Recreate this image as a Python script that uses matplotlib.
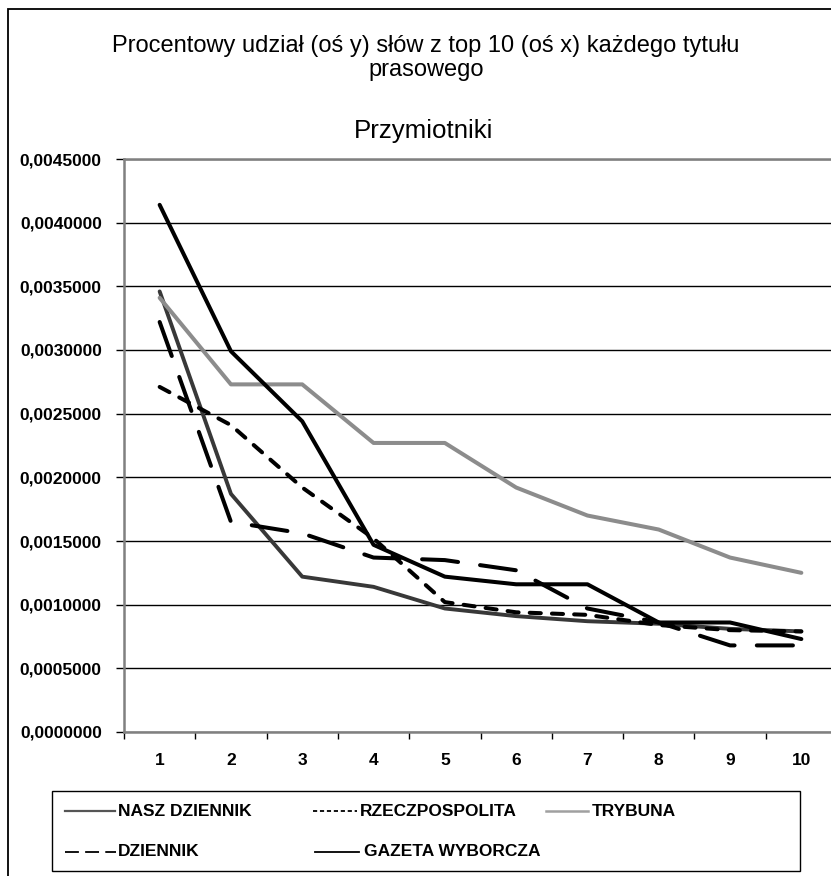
import matplotlib
matplotlib.use("Agg")
import matplotlib.pyplot as plt
from matplotlib.lines import Line2D
from matplotlib.patches import Rectangle
from matplotlib.ticker import FixedLocator, FuncFormatter

plt.rcParams['font.family'] = ['Liberation Sans', 'DejaVu Sans']
plt.rcParams['lines.scale_dashes'] = False

# ---- data -------------------------------------------------------------
ranks = [1, 2, 3, 4, 5, 6, 7, 8, 9, 10]
nasz_dziennik = [0.00346, 0.00187, 0.00122, 0.00114, 0.00097, 0.00091, 0.00087, 0.00085, 0.00081, 0.00079]
rzeczpospolita = [0.00271, 0.00241, 0.00192, 0.00152, 0.00102, 0.00094, 0.00092, 0.00084, 0.00080, 0.00079]
trybuna = [0.00341, 0.00273, 0.00273, 0.00227, 0.00227, 0.00192, 0.00170, 0.00159, 0.00137, 0.00125]
dziennik = [0.00322, 0.00165, 0.00156, 0.00137, 0.00135, 0.00127, 0.00097, 0.00086, 0.00068, 0.00068]
gazeta_wyborcza = [0.00414, 0.00299, 0.00244, 0.00147, 0.00122, 0.00116, 0.00116, 0.00086, 0.00086, 0.00073]
series_names = ["NASZ DZIENNIK", "RZECZPOSPOLITA", "TRYBUNA", "DZIENNIK", "GAZETA WYBORCZA"]
y_ticks = [0.0, 0.0005, 0.0010, 0.0015, 0.0020, 0.0025, 0.0030, 0.0035, 0.0040, 0.0045]

title_lines = ["Procentowy udział (oś y) słów z top 10 (oś x) każdego tytułu", "prasowego"]
subtitle_text = "Przymiotniki"

# ---- styles -----------------------------------------------------------
styles = {
    "NASZ DZIENNIK": dict(color="#383838", lw=2.8, ls="-"),
    "RZECZPOSPOLITA": dict(color="black", lw=2.9, ls=(0, (8, 8))),
    "TRYBUNA": dict(color="#8c8c8c", lw=2.9, ls="-"),
    "DZIENNIK": dict(color="black", lw=2.9, ls=(0, (26, 16))),
    "GAZETA WYBORCZA": dict(color="black", lw=2.9, ls="-"),
}
legend_styles = {
    "NASZ DZIENNIK": dict(color="#555555", lw=1.6, ls="-"),
    "RZECZPOSPOLITA": dict(color="black", lw=1.3, ls=(0, (3, 2))),
    "TRYBUNA": dict(color="#a0a0a0", lw=1.8, ls="-"),
    "DZIENNIK": dict(color="black", lw=1.3, ls=(0, (10, 4.5))),
    "GAZETA WYBORCZA": dict(color="black", lw=1.3, ls="-"),
}

W, H = 831, 876
fig = plt.figure(figsize=(W / 100, H / 100), dpi=100)
renderer = fig.canvas.get_renderer()


def fx(x):
    return x / W


def fy(y):
    return 1 - y / H


def fitted_text(x_center, y_center, s, width_px, **kw):
    """Place centred text and scale its font so it spans width_px pixels."""
    t = fig.text(fx(x_center), fy(y_center), s, ha="center", va="center", fontsize=12, **kw)
    w = t.get_window_extent(renderer).width
    t.set_fontsize(12 * width_px / w)
    return t


# plot area (extends past the right edge of the canvas)
left, right, top, bottom = 124, 837, 159, 732
ax = fig.add_axes([fx(left), fy(bottom), (right - left) / W, (bottom - top) / H])

values = [nasz_dziennik, rzeczpospolita, trybuna, dziennik, gazeta_wyborcza]
for name, vals in zip(series_names, values):
    st = styles[name]
    ax.plot(ranks, vals, color=st["color"], lw=st["lw"], linestyle=st["ls"],
            solid_capstyle="round", dash_capstyle="round", solid_joinstyle="round",
            zorder=3)

ax.set_xlim(0.5, 10.5)
ax.set_ylim(0, 0.0045)

ax.yaxis.set_major_locator(FixedLocator(y_ticks))
ax.yaxis.set_major_formatter(FuncFormatter(lambda v, p: f"{v:.7f}".replace(".", ",")))
ax.set_xticks(ranks)
ax.set_xticklabels([str(r) for r in ranks])
ax.xaxis.set_minor_locator(FixedLocator([r + 0.5 for r in [0] + ranks]))

ax.tick_params(axis="x", which="major", length=0, pad=15, labelsize=12.5)
ax.tick_params(axis="x", which="minor", length=5, width=1, color="black", direction="out")
ax.tick_params(axis="y", which="major", length=6, width=1, color="black", direction="out",
               pad=10, labelsize=12.5)
for lab in ax.get_xticklabels() + ax.get_yticklabels():
    lab.set_fontweight("bold")

ax.grid(axis="y", color="black", lw=1.0, zorder=0)
ax.set_axisbelow(True)
for side in ["left", "bottom", "top"]:
    ax.spines[side].set_color("#808080")
    ax.spines[side].set_linewidth(1.8)
ax.spines["right"].set_visible(False)

# outer chart frame
fig.patches.append(Rectangle((fx(8), fy(H + 20)), (W + 20) / W, (H + 20 - 8.5) / H,
                             transform=fig.transFigure, fill=False,
                             edgecolor="black", lw=1.3))

# titles
t1 = fitted_text(426, 46, title_lines[0], 628)
fig.text(fx(426), fy(70), title_lines[1], ha="center", va="center",
         fontsize=t1.get_fontsize())
fitted_text(424, 131, subtitle_text, 140)

# legend
fig.patches.append(Rectangle((fx(52), fy(871)), (800 - 52) / W, (871 - 791) / H,
                             transform=fig.transFigure, fill=False,
                             edgecolor="black", lw=1.0))
legend_layout = {
    "NASZ DZIENNIK": (65, 115, 118, 811),
    "RZECZPOSPOLITA": (313, 357, 360, 811),
    "TRYBUNA": (546, 588, 592, 811),
    "DZIENNIK": (65, 116, 118, 852),
    "GAZETA WYBORCZA": (315, 359, 364, 852),
}
for name in series_names:
    x0, x1, xt, yy = legend_layout[name]
    st = legend_styles[name]
    fig.lines.append(Line2D([fx(x0), fx(x1)], [fy(yy), fy(yy)], transform=fig.transFigure,
                            color=st["color"], lw=st["lw"], linestyle=st["ls"]))
    fig.text(fx(xt), fy(yy), name, ha="left", va="center", fontsize=12.5,
             fontweight="bold")

fig.savefig("out.png", dpi=100)
